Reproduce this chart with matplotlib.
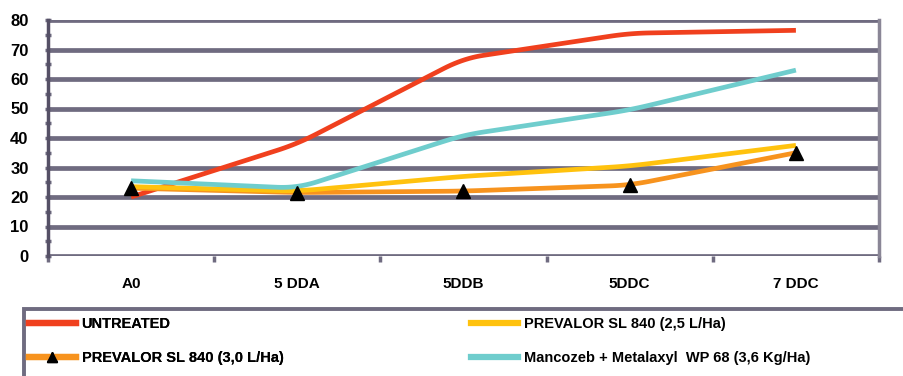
import matplotlib.pyplot as plt
from matplotlib.patches import Rectangle
import numpy as np

plt.rcParams['font.family'] = ['Liberation Sans Narrow', 'Liberation Sans', 'DejaVu Sans']
plt.rcParams['font.weight'] = 'bold'

categories = ["A0", "5 DDA", "5DDB", "5DDC", "7 DDC"]
untreated = [20, 38, 67, 75.5, 76.5]
prevalor_25 = [23.5, 22, 27, 30.5, 37.5]
prevalor_30 = [23, 21.5, 22, 24, 35]
mancozeb = [25.5, 23, 41, 49.5, 63]
yticks = [0, 10, 20, 30, 40, 50, 60, 70, 80]


def soften(x, y, r=0.12, n=12):
    # straight segments with the corners rounded off by a short quadratic curve
    x = np.asarray(x, float)
    y = np.asarray(y, float)
    xs, ys = [x[0]], [y[0]]
    for i in range(1, len(x) - 1):
        a = (x[i] - r, y[i] - r * (y[i] - y[i - 1]))
        b = (x[i] + r, y[i] + r * (y[i + 1] - y[i]))
        t = np.linspace(0, 1, n)
        xs.extend((1 - t)**2 * a[0] + 2 * t * (1 - t) * x[i] + t**2 * b[0])
        ys.extend((1 - t)**2 * a[1] + 2 * t * (1 - t) * y[i] + t**2 * b[1])
    xs.append(x[-1])
    ys.append(y[-1])
    return np.array(xs), np.array(ys)


fig = plt.figure(figsize=(9.04, 3.76), dpi=100)
ax = fig.add_axes([48 / 904, 1 - 256 / 376, (879 - 48) / 904, (256 - 20) / 376])

x = np.arange(len(categories))
grid_c = '#6f6b80'

for v in yticks:
    ax.axhline(v, color=grid_c, lw=3.4, zorder=1)

series = [
    (untreated, '#f0401e', "UNTREATED", None),
    (prevalor_30, '#f7931e', "PREVALOR SL 840 (3,0 L/Ha)", '^'),
    (prevalor_25, '#ffc20e', "PREVALOR SL 840 (2,5 L/Ha)", None),
    (mancozeb, '#6fcdcd', "Mancozeb + Metalaxyl  WP 68 (3,6 Kg/Ha)", None),
]
handles = []
for vals, col, lab, mk in series:
    sx, sy = soften(x, vals)
    ax.plot(sx, sy, color=col, lw=3.4, zorder=3, solid_capstyle='butt',
            solid_joinstyle='round')
    if mk:
        ax.plot(x, vals, ls='none', marker=mk, color='black', ms=10, zorder=4)
    h, = ax.plot([], [], color=col, lw=4.5, marker=mk, mfc='black', mec='black', ms=7)
    handles.append(h)

ax.set_xlim(-0.5, len(categories) - 0.5)
ax.set_ylim(0, 80)
ax.set_yticks(yticks)
ax.set_yticks(np.arange(5, 80, 10), minor=True)
ax.set_xticks(x)
ax.set_xticks(np.arange(-0.5, len(categories), 1), minor=True)
ax.set_xticklabels(categories, fontsize=11, fontweight='bold')
ax.tick_params(axis='x', which='major', length=0, pad=15)
ax.tick_params(axis='x', which='minor', length=4, width=2.5, color=grid_c, direction='out')
ax.tick_params(axis='y', which='both', length=4, width=2.5, color=grid_c, direction='inout', pad=12)
for lbl in ax.get_yticklabels():
    lbl.set_fontsize(12)
    lbl.set_fontweight('bold')

ax.spines['top'].set_visible(False)
ax.spines['bottom'].set_visible(False)
ax.spines['left'].set_color('#555066')
ax.spines['left'].set_linewidth(2.5)
ax.spines['right'].set_color('#8a8696')
ax.spines['right'].set_linewidth(2.5)

# legend frame running off the right and bottom edges
fig.patches.append(Rectangle((24 / 904, -0.05), 1.0, 1 - 309 / 376 + 0.05,
                             transform=fig.transFigure, fill=False,
                             edgecolor=grid_c, lw=2.8, zorder=0))

leg_kw = dict(loc='upper left', frameon=False, handlelength=3.2, handletextpad=0.4,
              labelspacing=1.35, borderaxespad=0, borderpad=0,
              prop={'weight': 'bold', 'size': 10.5})
leg1 = fig.legend([handles[0], handles[1]], [series[0][2], series[1][2]],
                  bbox_to_anchor=(29 / 904, 1 - 317 / 376), **leg_kw)
fig.add_artist(leg1)
fig.legend([handles[2], handles[3]], [series[2][2], series[3][2]],
           bbox_to_anchor=(471 / 904, 1 - 317 / 376), **leg_kw)

plt.savefig("out.png", dpi=100)
plt.close()
